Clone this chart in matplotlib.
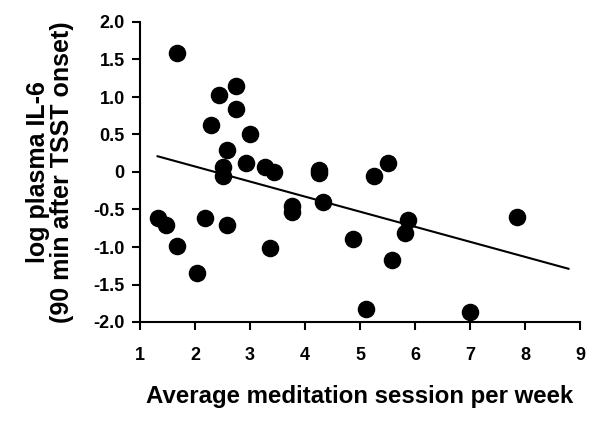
import matplotlib
matplotlib.use("Agg")
import matplotlib.pyplot as plt

plt.rcParams['font.family'] = ['Liberation Sans', 'DejaVu Sans']
plt.rcParams['font.weight'] = 'bold'

sessions = [1.67, 2.44, 2.74, 2.74, 2.29, 3.00, 2.59, 2.92, 2.51, 2.51,
            3.27, 3.44, 4.25, 4.25, 7.85, 5.51, 5.26, 5.88, 5.81, 4.88,
            5.59, 5.11, 7.00, 1.33, 1.47, 1.67, 2.03, 2.18, 2.59, 3.36,
            3.77, 3.77, 4.33]
il6 = [1.59, 1.03, 1.14, 0.84, 0.62, 0.51, 0.29, 0.12, 0.06, -0.05,
       0.07, 0.00, 0.03, -0.02, -0.60, 0.12, -0.05, -0.64, -0.82, -0.90,
       -1.18, -1.82, -1.87, -0.62, -0.71, -0.99, -1.34, -0.62, -0.71, -1.01,
       -0.45, -0.54, -0.40]
fit_x = [1.32, 8.79]
fit_y = [0.21, -1.29]

xticks = [1, 2, 3, 4, 5, 6, 7, 8, 9]
yticks = [2.0, 1.5, 1.0, 0.5, 0, -0.5, -1.0, -1.5, -2.0]
ytick_labels = ["2.0", "1.5", "1.0", "0.5", "0", "-0.5", "-1.0", "-1.5", "-2.0"]

fig = plt.figure(figsize=(6, 4.23), dpi=100)
ax = fig.add_axes([140/600, 1 - 322/423, 440/600, 300/423])

ax.scatter(sessions, il6, s=135, color='black', zorder=3, clip_on=False)
ax.plot(fit_x, fit_y, color='black', lw=1.5, zorder=2)

ax.set_xlim(1, 9)
ax.set_ylim(-2, 2)
ax.set_xticks(xticks)
ax.set_xticklabels([str(t) for t in xticks])
ax.set_yticks(yticks)
ax.set_yticklabels(ytick_labels)

for s in ['top', 'right']:
    ax.spines[s].set_visible(False)
for s in ['left', 'bottom']:
    ax.spines[s].set_linewidth(1.5)
ax.tick_params(direction='out', length=6, width=1.5, labelsize=13)
ax.tick_params(axis='x', pad=12)
ax.tick_params(axis='y', pad=5)

ax.set_xlabel("Average meditation session per week", fontsize=17.3, fontweight='bold', labelpad=15)
ax.set_ylabel("log plasma IL-6\n(90 min after TSST onset)", fontsize=18, fontweight='bold',
              labelpad=14, linespacing=1.0)

fig.savefig("out.png", dpi=100)
